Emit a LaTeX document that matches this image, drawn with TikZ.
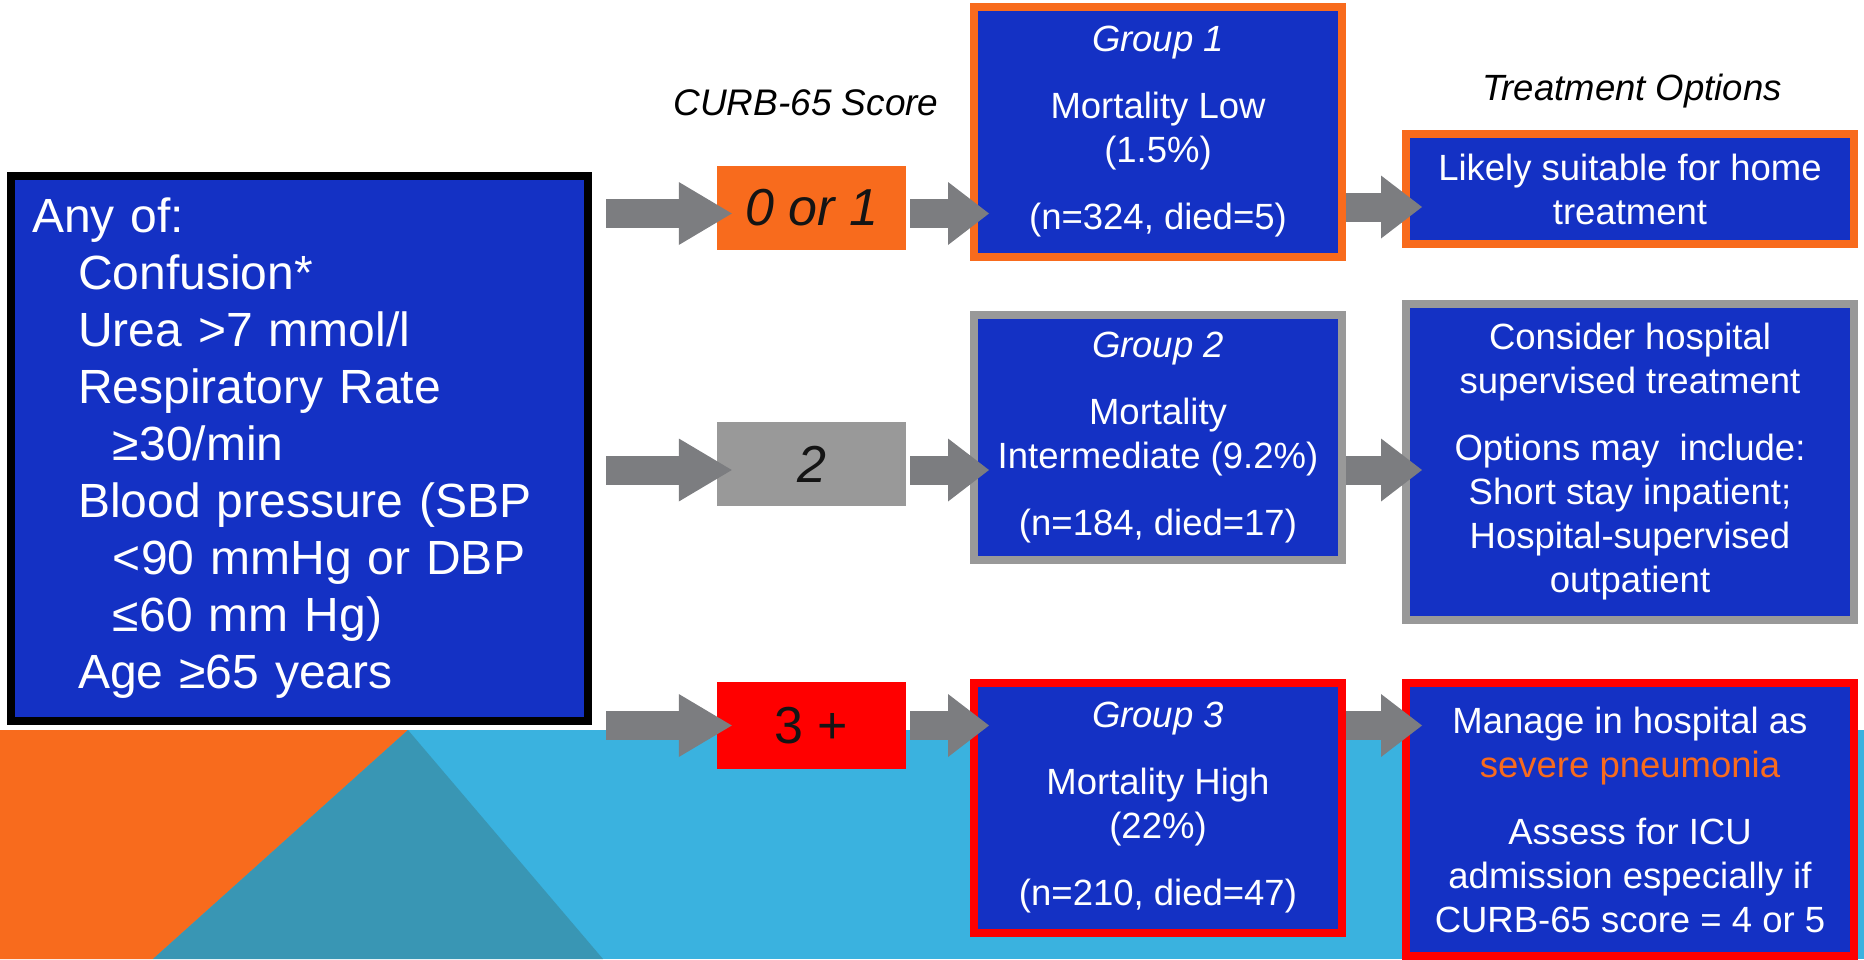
\documentclass[tikz,border=0pt]{standalone}
\usepackage{fontspec}
\setmainfont{Liberation Sans}
\usetikzlibrary{arrows.meta}
\definecolor{boxblue}{RGB}{20,49,196}
\definecolor{curborange}{RGB}{248,107,29}
\definecolor{curbgrey}{RGB}{153,153,153}
\definecolor{arrowgrey}{RGB}{124,125,128}
\definecolor{skyblue}{RGB}{58,178,223}
\definecolor{tealblue}{RGB}{57,150,180}
\definecolor{curbred}{RGB}{255,0,0}
\definecolor{inkdark}{RGB}{20,20,20}
\newcommand{\bigtxt}{\fontsize{48}{57}\selectfont}
\newcommand{\midtxt}{\fontsize{36.5}{44}\selectfont}
\newcommand{\scoretxt}{\fontsize{52}{60}\selectfont}
\tikzset{
critbox/.style={draw=black, line width=8pt, fill=boxblue, text=white, minimum width=577pt,
  minimum height=545pt, text width=535pt, inner xsep=21pt, align=left, font=\bigtxt},
scorebox/.style={minimum width=189pt, minimum height=84pt, inner sep=0pt, text=inkdark, font=\scoretxt},
groupbox/.style={draw=#1, line width=8pt, fill=boxblue, text=white, minimum width=368pt, align=center, font=\midtxt},
treatbox/.style={draw=#1, line width=8pt, fill=boxblue, text=white, minimum width=448pt, align=center, font=\midtxt},
fat/.style={draw=arrowgrey, line width=29pt, -{Triangle[length=#1, width=63pt, line width=0pt]}},
fat/.default=41pt,
}

\begin{document}
\begin{tikzpicture}[x=1pt, y=-1pt]
    \useasboundingbox (0,0) rectangle (1864,959);
    \fill[skyblue] (0,730) rectangle (1864,959);
    \fill[curborange] (0,730) -- (408,730) -- (153,959) -- (0,959) -- cycle;
    \fill[tealblue] (408,730) -- (603,959) -- (153,959) -- cycle;

    \node[critbox] (crit) at (299.5,448.5) {Any of:\\
        \hspace*{46pt}Confusion*\\
        \hspace*{46pt}Urea >7 mmol/l\\
        \hspace*{46pt}Respiratory Rate\\
        \hspace*{81pt}≥30/min\\
        \hspace*{46pt}Blood pressure (SBP\\
        \hspace*{81pt}<90 mmHg or DBP\\
        \hspace*{81pt}≤60 mm Hg)\\
        \hspace*{46pt}Age ≥65 years};

    \node[anchor=base, font=\fontsize{37}{44}\selectfont\itshape] (curb) at (806,115) {CURB-65 Score};
    \node[anchor=base, font=\fontsize{36.5}{44}\selectfont\itshape] (opts) at (1632,100) {Treatment Options};

    \node[scorebox, fill=curborange] (s1) at (811.5,208) {\itshape 0 or 1};
    \node[scorebox, fill=curbgrey] (s2) at (811.5,464) {\itshape 2};
    \node[scorebox, fill=curbred, minimum height=87pt] (s3) at (811.5,725.5) {3 +};

    \node[groupbox=curborange, minimum height=250pt] (g1) at (1158,132) {\itshape Group 1\\[23pt]
        Mortality Low\\ (1.5\%)\\[23pt] (n=324, died=5)};
    \node[groupbox=curbgrey, minimum height=245pt] (g2) at (1158,437.5) {\itshape Group 2\\[23pt]
        Mortality\\ Intermediate (9.2\%)\\[23pt] (n=184, died=17)};
    \node[groupbox=curbred, minimum height=250pt] (g3) at (1158,808) {\itshape Group 3\\[23pt]
        Mortality High\\ (22\%)\\[23pt] (n=210, died=47)};

    \node[treatbox=curborange, minimum height=110pt] (t1) at (1630,189) {Likely suitable for home\\ treatment};
    \node[treatbox=curbgrey, minimum height=316pt] (t2) at (1630,462) {Consider hospital\\
        supervised treatment\\[23pt] Options may\ \ include:\\ Short stay inpatient;\\
        Hospital-supervised\\ outpatient};
    \node[treatbox=curbred, minimum height=273pt] (t3) at (1630,819.5) {Manage in hospital as\\
        {\color{curborange}severe pneumonia}\\[23pt] Assess for ICU\\
        admission especially if\\ CURB-65 score = 4 or 5};

    \draw[fat=53pt] ([xshift=14pt,yshift=-5.5pt]crit.east |- s1) -- ([xshift=15pt,yshift=-5.5pt]s1.west);
    \draw[fat] ([xshift=4pt,yshift=-5.5pt]s1.east) -- ([xshift=19pt,yshift=-5.5pt]g1.west |- s1);
    \draw[fat] ([yshift=-18pt]g1.east |- t1) -- ([xshift=20pt,yshift=-18pt]t1.west);

    \draw[fat=53pt] ([xshift=14pt,yshift=-6pt]crit.east |- s2) -- ([xshift=15pt,yshift=-6pt]s2.west);
    \draw[fat] ([xshift=4pt,yshift=-6pt]s2.east) -- ([xshift=19pt,yshift=-6pt]g2.west |- s2);
    \draw[fat] ([yshift=-6pt]g2.east |- s2) -- ([xshift=20pt,yshift=-6pt]t2.west |- s2);

    \draw[fat=53pt] ([xshift=14pt]crit.east |- s3) -- ([xshift=15pt]s3.west);
    \draw[fat] ([xshift=4pt]s3.east) -- ([xshift=19pt]g3.west |- s3);
    \draw[fat] (g3.east |- s3) -- ([xshift=20pt]t3.west |- s3);
\end{tikzpicture}
\end{document}
